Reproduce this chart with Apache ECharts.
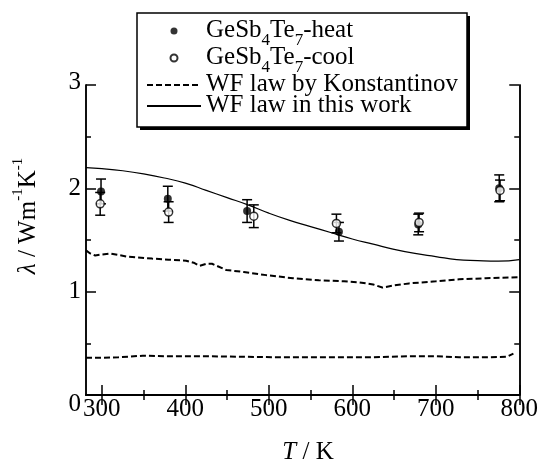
<!DOCTYPE html>
<html>
<head>
<meta charset="utf-8">
<script src="https://cdn.jsdelivr.net/npm/echarts@6/dist/echarts.min.js"></script>
<style>html,body{margin:0;padding:0;background:#fff;}#c{width:541px;height:461px;}</style>
</head>
<body>
<div id="c"></div>
<script>
// ---- data ----
const heatT = [299, 379, 474, 584, 679, 776];
const heatL = [1.97, 1.90, 1.78, 1.58, 1.65, 2.00];
const heatErr = [0.12, 0.12, 0.11, 0.09, 0.10, 0.13];

const coolT = [298, 380, 482, 581, 680, 777];
const coolL = [1.85, 1.77, 1.73, 1.66, 1.67, 1.98];
const coolErr = [0.11, 0.10, 0.11, 0.09, 0.09, 0.10];

const wfT = [281, 300, 325, 350, 375, 400, 425, 450, 475, 500, 525, 550, 575, 600, 625, 650, 675, 700, 725, 750, 775, 800];
const wfL = [2.20, 2.19, 2.17, 2.14, 2.10, 2.05, 1.98, 1.91, 1.84, 1.76, 1.69, 1.63, 1.57, 1.51, 1.46, 1.41, 1.37, 1.34, 1.31, 1.30, 1.295, 1.31];

const konUpT = [281, 286, 292, 300, 310, 330, 360, 380, 401, 410, 417, 425, 432, 449, 470, 497, 529, 560, 590, 608, 625, 636, 650, 668, 700, 728, 760, 800];
const konUpL = [1.40, 1.37, 1.35, 1.36, 1.37, 1.34, 1.32, 1.31, 1.30, 1.28, 1.25, 1.27, 1.27, 1.21, 1.19, 1.16, 1.13, 1.11, 1.10, 1.09, 1.07, 1.04, 1.06, 1.08, 1.10, 1.12, 1.13, 1.14];

const konLoT = [281, 300, 320, 349, 380, 420, 470, 509, 560, 620, 668, 700, 728, 760, 785, 793];
const konLoL = [0.36, 0.36, 0.365, 0.38, 0.375, 0.375, 0.37, 0.365, 0.365, 0.365, 0.375, 0.375, 0.365, 0.365, 0.37, 0.40];

const xMajor = [300, 400, 500, 600, 700, 800];
const xMinor = [350, 450, 550, 650, 750];
const yMajor = [0, 1, 2, 3];

// ---- chart ----
const FONT = 'Liberation Serif';
const zip = (a, b) => a.map((v, i) => [v, b[i]]);
const errData = (t, l, e) => t.map((v, i) => [v, l[i] - e[i], l[i] + e[i]]);

const chart = echarts.init(document.getElementById('c'), null, {renderer: 'canvas'});

const axisLine = {show: true, lineStyle: {color: '#000', width: 1.5}};
function xAx(pos, ticks, len, labels) {
  return {
    type: 'value', min: 281, max: 800, position: pos,
    axisLine: axisLine,
    axisTick: {show: true, inside: true, length: len, customValues: ticks, lineStyle: {color: '#000', width: 1.5}},
    axisLabel: labels ? {show: true, customValues: xMajor, fontSize: 25, fontFamily: FONT, color: '#000', margin: 2} : {show: false},
    splitLine: {show: false}
  };
}
function yAx(pos, interval, len, labels) {
  return {
    type: 'value', min: 0, max: 3, interval: interval, position: pos,
    axisLine: axisLine,
    axisTick: {show: true, inside: true, length: len, lineStyle: {color: '#000', width: 1.5}},
    axisLabel: labels ? {
      show: true, fontSize: 25, fontFamily: FONT, color: '#000', margin: 5,
      formatter: v => v === 0 ? '{lo|0}' : (v === 3 ? '{hi|3}' : String(v)),
      rich: {
        lo: {fontSize: 25, fontFamily: FONT, color: '#000', padding: [18, 0, 0, 0]},
        hi: {fontSize: 25, fontFamily: FONT, color: '#000', padding: [0, 0, 6, 0]}
      }
    } : {show: false},
    splitLine: {show: false}
  };
}

const legendNames = {
  heat: '{n|GeSb}{s|4}{n|Te}{s|7}{n|-heat}',
  cool: '{n|GeSb}{s|4}{n|Te}{s|7}{n|-cool}',
  konst: '{n|WF law by Konstantinov}',
  mine: '{n|WF law in this work}'
};
const noDot = {color: 'rgba(0,0,0,0)', borderWidth: 0, opacity: 0};

const option = {
  animation: false,
  backgroundColor: '#fff',
  grid: {left: 86, right: 20, top: 85, bottom: 66, containLabel: false},
  xAxis: [
    xAx('bottom', xMajor, 10, true),
    xAx('bottom', xMinor, 5, false),
    xAx('top', xMajor, 10, false),
    xAx('top', xMinor, 5, false)
  ],
  yAxis: [
    yAx('left', 1, 10, true),
    yAx('left', 0.5, 5, false),
    yAx('right', 1, 10, false),
    yAx('right', 0.5, 5, false)
  ],
  legend: {
    orient: 'vertical', left: 146, top: 18, itemGap: -4, itemWidth: 54, itemHeight: 7,
    padding: 0, z: 60, selectedMode: false,
    data: [
      {name: 'heat', icon: 'circle'},
      {name: 'cool', icon: 'circle'},
      {name: 'konst', itemStyle: noDot},
      {name: 'mine', itemStyle: noDot}
    ],
    formatter: name => legendNames[name],
    textStyle: {
      fontSize: 25, fontFamily: FONT, color: '#000',
      rich: {
        n: {fontSize: 25, fontFamily: FONT, color: '#000', lineHeight: 26, verticalAlign: 'top'},
        s: {fontSize: 17, fontFamily: FONT, color: '#000', lineHeight: 17, padding: [14, 0, 0, 0], verticalAlign: 'top'}
      }
    }
  },
  graphic: [
    {type: 'rect', z: 50, shape: {x: 140, y: 16, width: 330, height: 114}, style: {fill: '#000'}},
    {type: 'rect', z: 51, shape: {x: 137, y: 13, width: 330, height: 114}, style: {fill: '#fff', stroke: '#000', lineWidth: 1.5}},
    {type: 'text', z: 10, x: 308, y: 452, style: {
      text: '{i|T}{n| / K}', align: 'center', verticalAlign: 'middle',
      rich: {i: {fontSize: 25, fontFamily: FONT, fontStyle: 'italic', fill: '#000'}, n: {fontSize: 25, fontFamily: FONT, fill: '#000'}}
    }},
    {type: 'text', z: 10, x: 26, y: 216, rotation: Math.PI / 2, style: {
      text: '{i|λ}{n| / Wm}{p|-1}{n|K}{p|-1}', align: 'center', verticalAlign: 'middle',
      rich: {
        i: {fontSize: 25, fontFamily: FONT, fontStyle: 'italic', fill: '#000', lineHeight: 30, verticalAlign: 'bottom'},
        n: {fontSize: 25, fontFamily: FONT, fill: '#000', lineHeight: 30, verticalAlign: 'bottom'},
        p: {fontSize: 15, fontFamily: FONT, fill: '#000', lineHeight: 15, verticalAlign: 'top'}
      }
    }}
  ],
  series: [
    {name: 'konst', type: 'line', data: zip(konUpT, konUpL), showSymbol: false, symbol: 'none', z: 3,
     itemStyle: {color: '#000'}, lineStyle: {color: '#000', width: 2, type: [6, 3]}},
    {name: 'konst', type: 'line', data: zip(konLoT, konLoL), showSymbol: false, symbol: 'none', z: 3,
     itemStyle: {color: '#000'}, lineStyle: {color: '#000', width: 2, type: [6, 3]}},
    {name: 'mine', type: 'line', data: zip(wfT, wfL), showSymbol: false, symbol: 'none', smooth: true, z: 3,
     itemStyle: {color: '#000'}, lineStyle: {color: '#000', width: 1.2}},
    {name: 'heatErr', type: 'custom', z: 4, data: errData(heatT, heatL, heatErr), renderItem: renderErr},
    {name: 'coolErr', type: 'custom', z: 4, data: errData(coolT, coolL, coolErr), renderItem: renderErr},
    {name: 'heat', type: 'scatter', z: 5, data: zip(heatT, heatL), symbol: 'circle', symbolSize: 8,
     itemStyle: {color: '#000', borderColor: '#000', borderWidth: 0}},
    {name: 'cool', type: 'scatter', z: 6, data: zip(coolT, coolL), symbol: 'circle', symbolSize: 8,
     itemStyle: {color: '#fff', borderColor: '#000', borderWidth: 1.5}}
  ]
};

function renderErr(params, api) {
  const x = api.value(0);
  const lo = api.coord([x, api.value(1)]);
  const hi = api.coord([x, api.value(2)]);
  const w = 5;
  const st = {stroke: '#000', lineWidth: 1.5};
  return {
    type: 'group',
    children: [
      {type: 'line', shape: {x1: lo[0], y1: lo[1], x2: hi[0], y2: hi[1]}, style: st},
      {type: 'line', shape: {x1: lo[0] - w, y1: lo[1], x2: lo[0] + w, y2: lo[1]}, style: st},
      {type: 'line', shape: {x1: hi[0] - w, y1: hi[1], x2: hi[0] + w, y2: hi[1]}, style: st}
    ]
  };
}

chart.setOption(option);
</script>
</body>
</html>
